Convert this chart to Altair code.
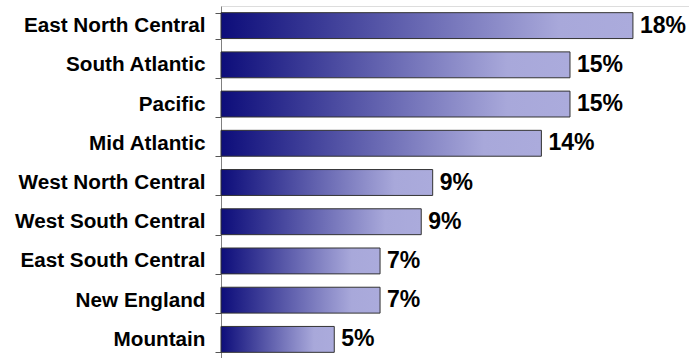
import altair as alt
import pandas as pd

regions = ["East North Central", "South Atlantic", "Pacific", "Mid Atlantic",
           "West North Central", "West South Central", "East South Central",
           "New England", "Mountain"]
shares = [18.0, 15.25, 15.25, 14.0, 9.25, 8.75, 6.95, 6.95, 4.95]
labels = ["18%", "15%", "15%", "14%", "9%", "9%", "7%", "7%", "5%"]

df = pd.DataFrame({"region": regions, "share": shares, "label": labels})

FONT = "Liberation Sans"

grad = alt.Gradient(
    gradient="linear",
    stops=[alt.GradientStop(color="#0d0d7a", offset=0),
           alt.GradientStop(color="#a8a8da", offset=0.82),
           alt.GradientStop(color="#ababdc", offset=1)],
    x1=0, x2=1, y1=0, y2=0,
)

y_enc = alt.Y(
    "region:N", sort=regions, title=None,
    scale=alt.Scale(paddingInner=0.34, paddingOuter=0.17),
    axis=alt.Axis(labelFont=FONT, labelFontSize=20.7, labelFontWeight="bold",
                  labelColor="#000000", labelPadding=10, tickSize=6, tickWidth=1,
                  tickBand="extent", tickColor="#555555", domainColor="#808080",
                  labelLimit=300),
)
x_enc = alt.X("share:Q", title=None, scale=alt.Scale(domain=[0, 20.45], nice=False),
              axis=None)

bars = alt.Chart(df).mark_bar(color=grad, stroke="#333333", strokeWidth=1).encode(
    x=x_enc, y=y_enc)

text = alt.Chart(df).mark_text(align="left", baseline="middle", dx=7, font=FONT,
                               fontSize=23, fontWeight="bold", color="#000000").encode(
    x=x_enc, y=y_enc, text="label:N")

chart = (bars + text).properties(
    width=468, height=353,
    autosize=alt.AutoSizeParams(type="none"),
    padding={"left": 221, "top": 6, "right": 0, "bottom": 0},
).configure_view(stroke=None).configure(background="white")

chart.save("out.html", embed_options={"renderer": "svg", "actions": False})
